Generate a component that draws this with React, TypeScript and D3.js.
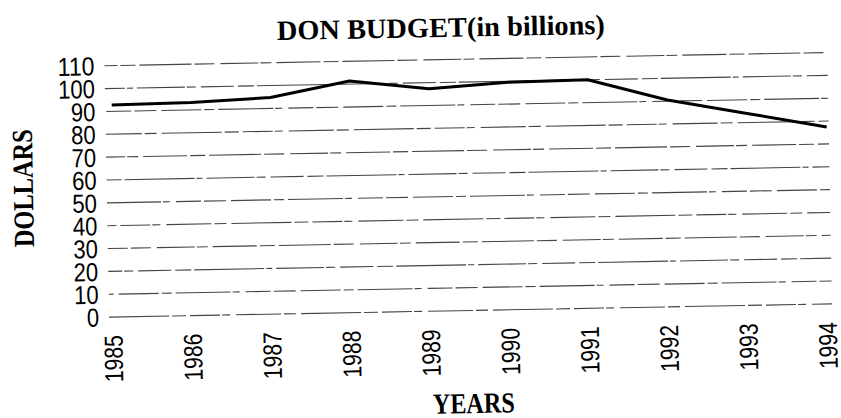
import React from "react";
import * as d3 from "d3";

const years: string[] = ["1985", "1986", "1987", "1988", "1989", "1990", "1991", "1992", "1993", "1994"];
const budget: number[] = [92.8, 93.2, 94.8, 101.4, 97.3, 99.5, 100, 90.5, 84, 77.4];
const yTicks: number[] = [0, 10, 20, 30, 40, 50, 60, 70, 80, 90, 100, 110];
const titleText = "DON BUDGET(in billions)";
const xTitle = "YEARS";
const yTitle = "DOLLARS";

const W = 841;
const H = 418;

export default function App() {
  const x = d3.scalePoint<string>().domain(years).range([113.5, 828]);
  const y = d3.scaleLinear().domain([0, 110]).range([311.4, 60]);
  const line = d3
    .line<number>()
    .x((_, i) => x(years[i]) as number)
    .y((d) => y(d));

  const dashes = [
    "60,3,14,4,30,2,8,6,45,3,12,5",
    "22,5,40,3,10,4,55,2,7,6,25,3",
    "48,2,9,5,33,4,16,3,70,2,6,4",
    "15,4,52,3,20,6,38,2,11,5,44,3",
  ];

  return (
    <svg
      width={W}
      height={H}
      style={{ position: "absolute", left: 0, top: 0, background: "#fff" }}
    >
      <rect x={0} y={0} width={W} height={H} fill="#fff" />
      <g transform="rotate(-1.05, 420, 200)">
        <text
          x={444}
          y={37.4}
          textAnchor="middle"
          fontFamily="'Liberation Serif', 'DejaVu Serif', serif"
          fontWeight="bold"
          fontSize={28}
          textLength={328}
          lengthAdjust="spacingAndGlyphs"
          fill="#000"
        >
          {titleText}
        </text>
        {yTicks.map((t, i) => (
          <line
            key={"g" + t}
            x1={107}
            x2={830}
            y1={y(t)}
            y2={y(t)}
            stroke="#444"
            strokeWidth={1.1}
            strokeDasharray={dashes[i % dashes.length]}
            strokeDashoffset={i * 17}
          />
        ))}
        {yTicks.map((t) => {
          const s = String(t);
          return (
            <text
              key={"yt" + t}
              x={97}
              y={y(t)}
              dy="0.36em"
              textAnchor="end"
              fontFamily="'Liberation Sans', Arial, sans-serif"
              fontSize={26}
              textLength={s.length * 12.3}
              lengthAdjust="spacingAndGlyphs"
              fill="#000"
            >
              {s}
            </text>
          );
        })}
        <path d={line(budget) || ""} fill="none" stroke="#000" strokeWidth={3} strokeLinejoin="round" />
        {years.map((yr) => (
          <text
            key={"xt" + yr}
            transform={`translate(${(x(yr) as number) + 6.5}, 329.5) rotate(-90)`}
            textAnchor="end"
            fontFamily="'Liberation Sans', Arial, sans-serif"
            fontSize={26}
            textLength={47}
            lengthAdjust="spacingAndGlyphs"
            fill="#000"
          >
            {yr}
          </text>
        ))}
        <text
          transform="translate(33.2, 181) rotate(-90)"
          textAnchor="middle"
          fontFamily="'Liberation Serif', 'DejaVu Serif', serif"
          fontWeight="bold"
          fontSize={29}
          textLength={118}
          lengthAdjust="spacingAndGlyphs"
          fill="#000"
        >
          {yTitle}
        </text>
        <text
          x={470}
          y={414}
          textAnchor="middle"
          fontFamily="'Liberation Serif', 'DejaVu Serif', serif"
          fontWeight="bold"
          fontSize={29}
          textLength={82}
          lengthAdjust="spacingAndGlyphs"
          fill="#000"
        >
          {xTitle}
        </text>
      </g>
    </svg>
  );
}
